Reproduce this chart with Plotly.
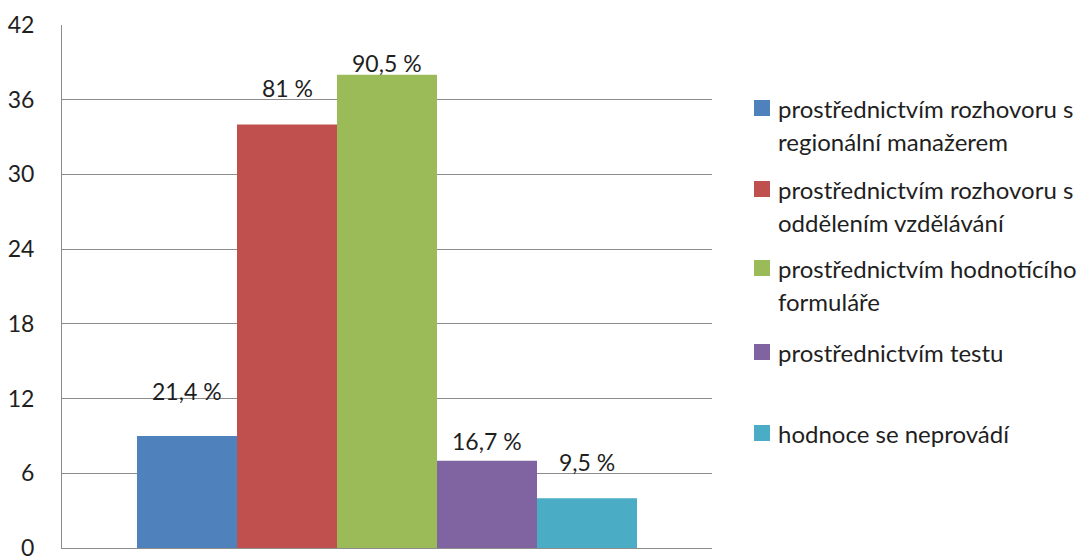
import textwrap
import plotly.graph_objects as go

# Survey answers: how is training evaluated (number of respondents, n = 42)
respondents = 42
series_names = [
    "prostřednictvím rozhovoru s regionální manažerem",
    "prostřednictvím rozhovoru s oddělením vzdělávání",
    "prostřednictvím hodnotícího formuláře",
    "prostřednictvím testu",
    "hodnoce se neprovádí",
]
counts = [9, 34, 38, 7, 4]
y_ticks = [0, 6, 12, 18, 24, 30, 36, 42]

colors = ["#4F81BD", "#C0504D", "#9BBB59", "#8064A2", "#4BACC6"]
label_shift = [45, 37, 12, 20, 36]          # px above bar top for each data label
legend_rows = [108, 189, 268, 352, 433]     # px from top of first legend line
legend_line_gap = 33

W, H = 1090, 556
M_L, M_R, M_T, M_B = 62, 378, 25, 8
FONT = "Lato"
TEXT = "#1f1f1f"
GRID = "#8c8c8c"


def pct_label(n):
    s = f"{100 * n / respondents:.1f}".rstrip("0").rstrip(".")
    return s.replace(".", ",") + " %"


fig = go.Figure()
for i, (name, n, c) in enumerate(zip(series_names, counts, colors)):
    fig.add_trace(go.Bar(x=[i], y=[n], name=name, width=1,
                         marker=dict(color=c, line=dict(width=0)),
                         showlegend=False))
    fig.add_annotation(x=i, y=n, xref="x", yref="y", text=pct_label(n),
                       showarrow=False, yanchor="middle", yshift=label_shift[i],
                       font=dict(family=FONT, size=23, color=TEXT))

# Legend drawn on the right: coloured square plus wrapped series name
pw = W - M_L - M_R
ph = H - M_T - M_B


def px_to_paper(px, py):
    return (px - M_L) / pw, (H - M_B - py) / ph


for i, name in enumerate(series_names):
    top = legend_rows[i]
    x0, y0 = px_to_paper(754, top - 8)
    x1, y1 = px_to_paper(770, top + 8)
    fig.add_shape(type="rect", xref="paper", yref="paper",
                  x0=x0, x1=x1, y0=y1, y1=y0,
                  fillcolor=colors[i], line=dict(width=0))
    for j, line in enumerate(textwrap.wrap(name, 27)):
        tx, ty = px_to_paper(776, top + j * legend_line_gap)
        fig.add_annotation(x=tx, y=ty, xref="paper", yref="paper", text=line,
                           showarrow=False, xanchor="left", yanchor="middle",
                           font=dict(family=FONT, size=24, color=TEXT))

fig.update_layout(
    width=W, height=H,
    margin=dict(l=M_L, r=M_R, t=M_T, b=M_B, autoexpand=False),
    paper_bgcolor="white", plot_bgcolor="white",
    barmode="overlay",
    font=dict(family=FONT, size=23, color=TEXT),
    xaxis=dict(range=[-1.25, 5.25], showticklabels=False, showgrid=False,
               zeroline=False, showline=True, linecolor=GRID, linewidth=1,
               ticks="", fixedrange=True, automargin=False),
    yaxis=dict(range=[0, 42], tickvals=y_ticks, showgrid=True, gridcolor=GRID,
               gridwidth=1, zeroline=False, showline=True, linecolor=GRID,
               linewidth=1, ticks="", ticklabelstandoff=22,
               ticklabeloverflow="allow", automargin=False,
               tickfont=dict(family=FONT, size=23, color=TEXT), fixedrange=True),
)

fig.write_html("out.html", config={"displayModeBar": False})
